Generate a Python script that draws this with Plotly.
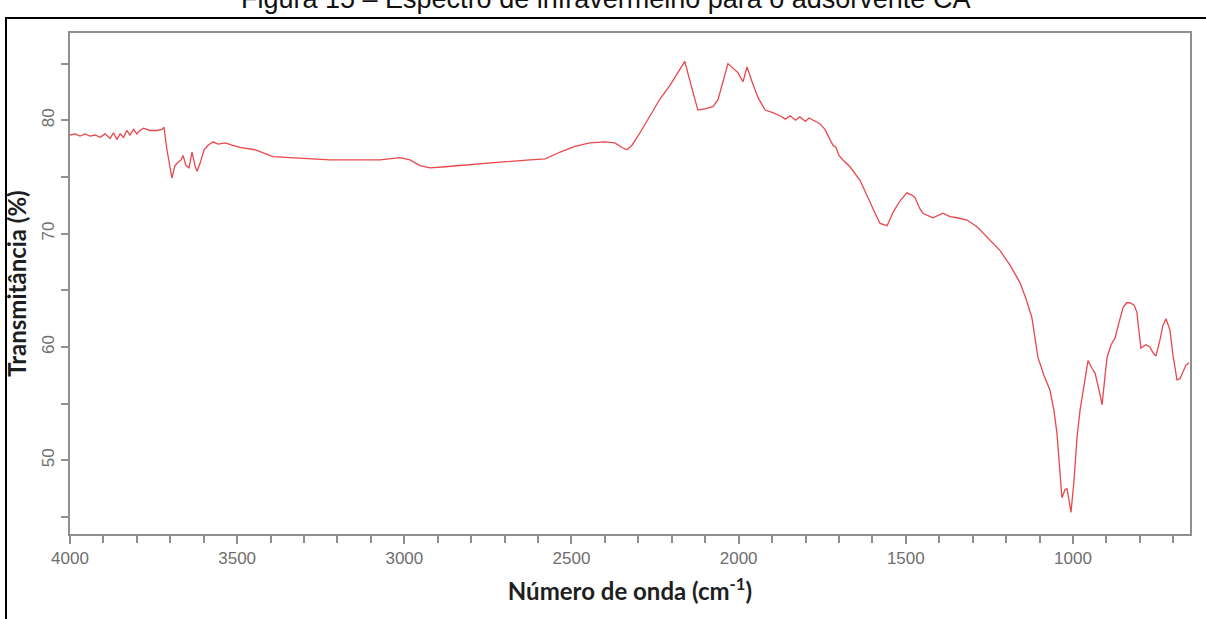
import plotly.graph_objects as go

# Wavenumber (cm-1) and transmittance (%)
wavenumber = [
    4000, 3985, 3970, 3955, 3940, 3925, 3910, 3895, 3880, 3870, 3860, 3850, 3840, 3830,
    3821, 3810, 3800, 3791, 3780, 3761, 3740, 3725, 3719, 3710, 3695, 3686, 3677, 3668,
    3662, 3653, 3644, 3635, 3626, 3620, 3611, 3599, 3587, 3572, 3557, 3536, 3515, 3492,
    3447, 3393, 3342, 3291, 3222, 3142, 3073, 3013, 2983, 2953, 2923, 2878, 2804, 2714,
    2624, 2579, 2534, 2490, 2445, 2400, 2370, 2349, 2334, 2319, 2295, 2265, 2235, 2205,
    2181, 2161, 2146, 2131, 2122, 2101, 2077, 2062, 2047, 2032, 2017, 2002, 1987, 1975,
    1960, 1942, 1921, 1900, 1876, 1860, 1846, 1830, 1817, 1800, 1790, 1778, 1757, 1742,
    1727, 1718, 1709, 1700, 1688, 1667, 1637, 1613, 1592, 1577, 1556, 1538, 1517, 1497,
    1482, 1473, 1458, 1449, 1434, 1419, 1389, 1368, 1347, 1317, 1287, 1257, 1218, 1188,
    1159, 1141, 1123, 1105, 1087, 1069, 1057, 1048, 1039, 1033, 1024, 1018, 1012, 1006,
    997, 988, 979, 970, 955, 943, 934, 922, 913, 904, 898, 886, 874, 862, 850, 839, 830,
    818, 809, 803, 797, 782, 770, 761, 752, 740, 731, 722, 710, 701, 689, 680, 671, 662, 653,
]
transmittance = [
    78.7, 78.8, 78.6, 78.8, 78.6, 78.7, 78.5, 78.8, 78.4, 78.9, 78.3, 78.8, 78.5, 79.1,
    78.7, 79.2, 78.8, 79.1, 79.3, 79.1, 79.1, 79.2, 79.4, 77.4, 74.9, 76.0, 76.3, 76.5,
    76.9, 76.0, 75.8, 77.2, 76.0, 75.5, 76.2, 77.4, 77.8, 78.1, 77.9, 78.0, 77.8, 77.6,
    77.4, 76.8, 76.7, 76.6, 76.5, 76.5, 76.5, 76.7, 76.5, 76.0, 75.8, 75.9, 76.1, 76.3,
    76.5, 76.6, 77.2, 77.7, 78.0, 78.1, 78.0, 77.6, 77.4, 77.8, 78.9, 80.4, 81.9, 83.1,
    84.2, 85.2, 83.5, 81.8, 80.9, 81.0, 81.2, 81.8, 83.5, 85.0, 84.6, 84.2, 83.4, 84.7,
    83.4, 82.0, 80.9, 80.7, 80.4, 80.1, 80.4, 80.0, 80.3, 79.9, 80.2, 80.0, 79.7, 79.2,
    78.3, 77.8, 77.6, 76.9, 76.5, 75.9, 74.7, 73.1, 71.8, 70.9, 70.7, 71.9, 72.9, 73.6,
    73.4, 73.2, 72.2, 71.8, 71.6, 71.4, 71.8, 71.5, 71.4, 71.2, 70.6, 69.7, 68.5, 67.2,
    65.7, 64.3, 62.6, 59.1, 57.5, 56.2, 54.4, 52.4, 49.1, 46.7, 47.4, 47.5, 46.5, 45.4,
    48.2, 52.0, 54.4, 56.2, 58.8, 58.1, 57.7, 56.2, 54.9, 57.5, 59.1, 60.2, 60.8, 62.2,
    63.5, 63.9, 63.9, 63.7, 63.1, 61.5, 59.9, 60.2, 60.0, 59.5, 59.2, 60.6, 61.9, 62.5,
    61.5, 59.3, 57.1, 57.2, 57.8, 58.4, 58.6,
]

x_tick_vals = [4000, 3500, 3000, 2500, 2000, 1500, 1000]
x_tick_text = ["4000", "3500", "3000", "2500", "2000", "1500", "1000"]
y_tick_vals = [50, 60, 70, 80]
y_tick_text = ["50", "60", "70", "80"]

W, H = 1206, 619
L, R, T, B = 70, 16, 33, 85
pw, ph = W - L - R, H - T - B

def px_to_paper_x(px):
    return (px - L) / pw

def px_to_paper_y(py):
    return (H - B - py) / ph

axis_gray = "#8f8f8f"
tick_font = dict(family="Liberation Sans, Arial, sans-serif", size=17, color="#6e6e6e")
title_font = dict(family="Lato, Liberation Sans, sans-serif", size=24, color="#1e1e1e")

fig = go.Figure()
fig.add_trace(go.Scatter(
    x=wavenumber, y=transmittance, mode="lines",
    line=dict(color="#e8474c", width=1.3), showlegend=False, hoverinfo="skip",
))

fig.update_layout(
    width=W, height=H,
    margin=dict(l=L, r=R, t=T, b=B),
    paper_bgcolor="white", plot_bgcolor="white",
    showlegend=False,
    xaxis=dict(
        range=[4000, 650], showgrid=False, zeroline=False,
        showline=True, linecolor=axis_gray, linewidth=2, mirror=True,
        ticks="outside", ticklen=8, tickwidth=2, tickcolor=axis_gray,
        tickmode="array", tickvals=x_tick_vals, ticktext=x_tick_text,
        minor=dict(tick0=0, dtick=100, ticks="outside", ticklen=7, tickwidth=2,
                   tickcolor=axis_gray, showgrid=False),
        tickfont=tick_font,
        title=dict(text="<b>Número de onda (cm<sup>-1</sup>)</b>", font=title_font, standoff=16),
    ),
    yaxis=dict(
        range=[43.5, 87.7], showgrid=False, zeroline=False,
        showline=True, linecolor=axis_gray, linewidth=2, mirror=True,
        ticks="outside", ticklen=7, tickwidth=2, tickcolor=axis_gray,
        tickmode="array", tickvals=y_tick_vals, ticktext=y_tick_text,
        tickangle=-90,
        minor=dict(tick0=0, dtick=5, ticks="outside", ticklen=7, tickwidth=2,
                   tickcolor=axis_gray, showgrid=False),
        tickfont=tick_font,
        title=dict(text="<b>Transmitância (%)</b>", font=title_font, standoff=6),
    ),
)

fig.add_annotation(
    text="Figura 15 – Espectro de infravermelho para o adsorvente CA",
    xref="paper", yref="paper", x=px_to_paper_x(605), y=px_to_paper_y(16),
    xanchor="center", yanchor="bottom", showarrow=False,
    font=dict(family="Liberation Sans, Arial, sans-serif", size=27, color="#111111"),
)

fig.add_shape(
    type="rect", xref="paper", yref="paper",
    x0=px_to_paper_x(6), x1=px_to_paper_x(1220),
    y0=px_to_paper_y(640), y1=px_to_paper_y(18),
    line=dict(color="black", width=2), fillcolor="rgba(0,0,0,0)", layer="above",
)

fig.write_html("out.html")
